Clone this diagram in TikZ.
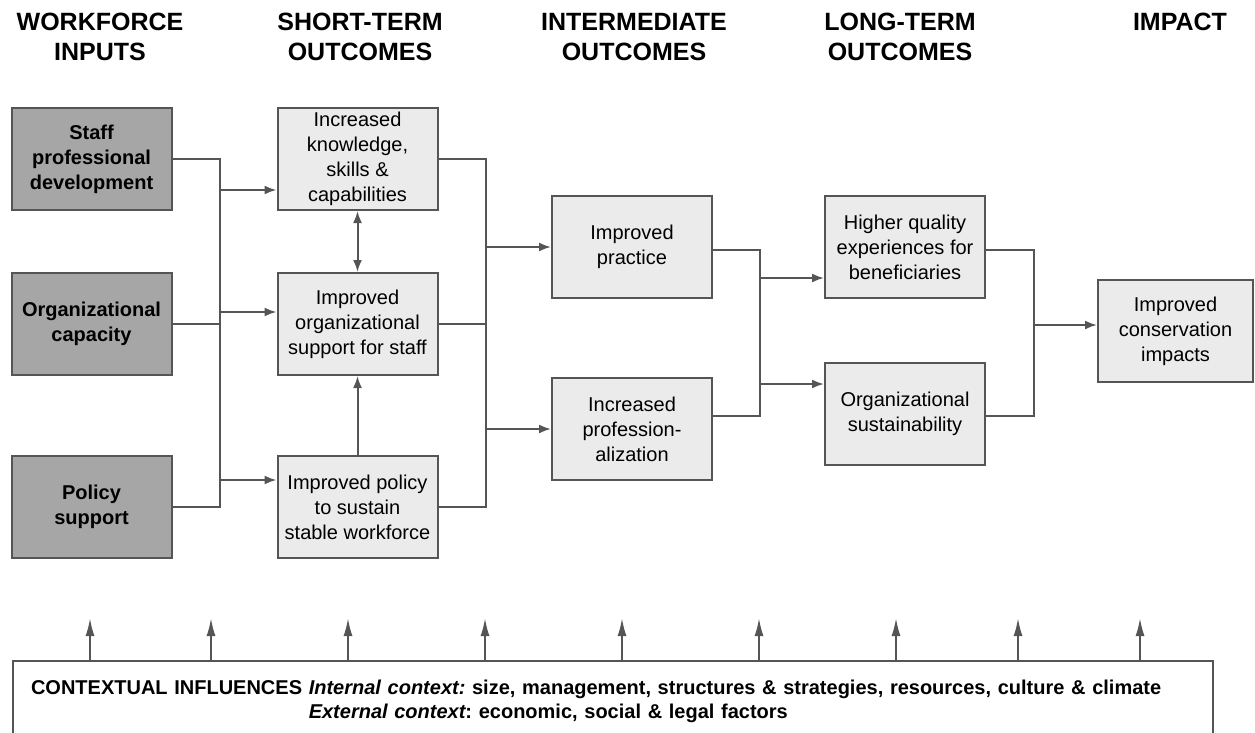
\documentclass[tikz,border=0pt]{standalone}
\usepackage{fontspec}
\setmainfont{Liberation Sans}
\usepackage{xcolor}
\usetikzlibrary{arrows.meta, positioning}
\frenchspacing

\definecolor{linegray}{HTML}{555555}
\definecolor{darkbox}{HTML}{A6A6A6}
\definecolor{lightbox}{HTML}{EBEBEB}

\begin{document}
\begin{tikzpicture}[x=1pt, y=-1pt,
        >={Latex[length=12pt, width=9pt]},
        box/.style={draw=linegray, line width=2pt, minimum width=160pt, minimum height=102pt,
            inner sep=2pt, align=center, font=\fontsize{20}{25}\selectfont},
        inbox/.style={box, fill=darkbox, font=\fontsize{20}{25}\selectfont\bfseries},
        outbox/.style={box, fill=lightbox},
        heading/.style={anchor=north, inner sep=0pt, align=center,
            font=\fontsize{25}{30}\selectfont\bfseries},
        wire/.style={color=linegray, line width=2pt}]
        \useasboundingbox (0,0) rectangle (1255,733);

        \node[heading] (h1) at (100,13)  {WORKFORCE\\INPUTS};
        \node[heading] (h2) at (360,13)  {SHORT-TERM\\OUTCOMES};
        \node[heading] (h3) at (634,13)  {INTERMEDIATE\\OUTCOMES};
        \node[heading] (h4) at (900,13)  {LONG-TERM\\OUTCOMES};
        \node[heading] (h5) at (1180,13) {IMPACT};

        \node[inbox]                     (1)  at (91.5,159) {Staff\\professional\\development};
        \node[inbox, below=61pt of 1]    (2)  {Organizational\\capacity};
        \node[inbox, below=79pt of 2]    (3)  {Policy\\support};
        \node[outbox, right=104pt of 1]  (4)  {Increased\\knowledge,\\skills \&\\capabilities};
        \node[outbox, right=104pt of 2]  (5)  {Improved\\organizational\\support for staff};
        \node[outbox, right=104pt of 3]  (6)  {Improved policy\\to sustain\\stable workforce};
        \node[outbox]                    (7)  at (632,247) {Improved\\practice};
        \node[outbox, below=78pt of 7]   (8)  {Increased\\profession-\\alization};
        \node[outbox, right=111pt of 7]  (9)  {Higher quality\\experiences for\\beneficiaries};
        \node[outbox, below=63pt of 9]   (10) {Organizational\\sustainability};
        \node[outbox, minimum width=155pt] (11) at (1175.5,331) {Improved\\conservation\\impacts};

        \node[draw=linegray, line width=2pt, anchor=north west, text width=1164pt,
            inner xsep=18pt, inner ysep=19pt, align=left,
            font=\fontsize{20}{24.5}\selectfont\bfseries] (12) at (12,660)
            {CONTEXTUAL INFLUENCES {\itshape Internal context:} size, management, structures \& strategies, resources, culture \& climate\\
             \hphantom{CONTEXTUAL INFLUENCES }{\itshape External context}: economic, social \& legal factors};

        \coordinate (l1) at (220,159);
        \coordinate (m1) at (486,159);
        \coordinate (n1) at (760,250);
        \coordinate (p1) at (1034,250);

        \draw[wire] (1.east) -| (3.east -| l1) -- (3.east);
        \draw[wire] (2.east) -- (2.east -| l1);
        \draw[wire, ->] ([yshift=-31pt]4.west -| l1) -- ([yshift=-31pt]4.west);
        \draw[wire, ->] ([yshift=12pt]5.west -| l1) -- ([yshift=12pt]5.west);
        \draw[wire, ->] ([yshift=27pt]6.west -| l1) -- ([yshift=27pt]6.west);

        \draw[wire, <->] (4) -- (5);
        \draw[wire, ->] (6) -- (5);

        \draw[wire] (4.east) -| (6.east -| m1) -- (6.east);
        \draw[wire] (5.east) -- (5.east -| m1);
        \draw[wire, ->] (7.west -| m1) -- (7.west);
        \draw[wire, ->] (8.west -| m1) -- (8.west);

        \draw[wire] ([yshift=-3pt]7.east) -| ([yshift=13pt]8.east -| n1) -- ([yshift=13pt]8.east);
        \draw[wire, ->] ([yshift=-31pt]9.west -| n1) -- ([yshift=-31pt]9.west);
        \draw[wire, ->] ([yshift=30pt]10.west -| n1) -- ([yshift=30pt]10.west);

        \draw[wire] ([yshift=-3pt]9.east) -| ([yshift=-1.5pt]10.east -| p1) -- ([yshift=-1.5pt]10.east);
        \draw[wire, ->] ([yshift=6pt]11.west -| p1) -- ([yshift=6pt]11.west);

        \foreach \x [count=\i] in {90,211,348,485,622,759,896,1018,1140}{
            \coordinate (u\i) at (\x,618);
            \draw[wire, -{Latex[length=18pt, width=9pt]}] (u\i |- 12.north) -- (u\i);
        }
\end{tikzpicture}
\end{document}
